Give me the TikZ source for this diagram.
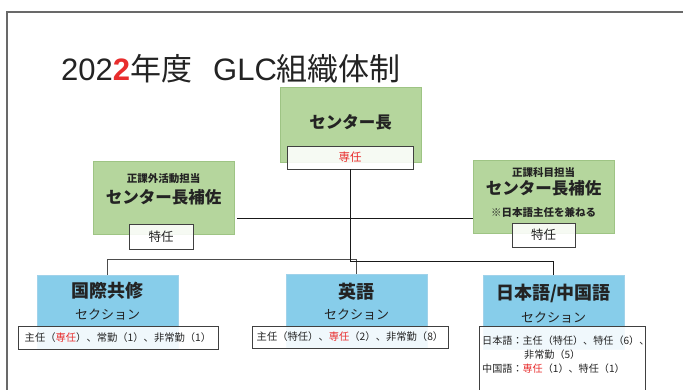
\documentclass[tikz,border=0pt]{standalone}
\usepackage{fontspec}
\setmainfont{Noto Sans CJK JP}
\newfontfamily\lat{Liberation Sans}
\usetikzlibrary{calc}
\definecolor{gfill}{RGB}{181,214,157}
\definecolor{gline}{RGB}{158,196,132}
\definecolor{bfill}{RGB}{135,205,234}
\definecolor{bline}{RGB}{160,210,234}
\definecolor{txt}{RGB}{35,35,35}
\definecolor{redt}{RGB}{232,45,45}
\definecolor{framec}{RGB}{105,105,105}
\begin{document}
\begin{tikzpicture}[x=1pt,y=-1pt,
  gbox/.style={draw=gline, fill=gfill, line width=0.8pt, minimum width=141pt, inner sep=0pt},
  bbox/.style={draw=bline, fill=bfill, line width=0.8pt, minimum width=141pt, minimum height=74pt, inner sep=0pt},
  wbox/.style={draw=black!75, fill=white, fill opacity=0.88, text opacity=1, line width=0.8pt, inner sep=0pt, text=txt},
  head/.style={text=txt, font=\bfseries\fontsize{16.5}{18}\selectfont, inner sep=0pt},
  small/.style={text=txt, font=\bfseries\fontsize{10.5}{12}\selectfont, inner sep=0pt},
  sect/.style={text=txt, font=\fontsize{13}{14}\selectfont, inner sep=0pt},
  note/.style={text=txt, font=\fontsize{10.1}{11}\selectfont, inner sep=0pt},
  conn/.style={draw=black!90, line width=0.9pt},
  conng/.style={draw=black!70, line width=0.9pt}]
\clip (0,0) rectangle (683,389);
\fill[white] (0,0) rectangle (683,389);
% frame
\draw[framec, line width=1.4pt] (7,400) -- (7,12) -- (700,12);
% title
\node[anchor=base west, inner sep=0pt, text=txt, font=\fontsize{31}{34}\selectfont] (title) at (61,80)
  {{\lat 202\textcolor{redt}{\bfseries 2}}年度\hspace{21pt}{\lat GLC}組織体制};
% boxes
\node[gbox, minimum height=75pt] (boss) at (350.5,124.5) {};
\node[head] (bosst) at (350.5,122) {センター長};
\node[wbox, minimum width=126pt, minimum height=23pt, text=redt, font=\fontsize{11.5}{12}\selectfont] (bossw) at (350,157.5) {専任};

\node[gbox, minimum height=73pt] (a1) at (163.5,197.5) {};
\node[small] (a1s) at (163.5,179) {正課外活動担当};
\node[head] (a1t) at (163.5,197) {センター長補佐};
\node[wbox, minimum width=64pt, minimum height=25pt, font=\fontsize{12.5}{13}\selectfont] (a1w) at (161,236.5) {特任};

\node[gbox, minimum height=73pt] (a2) at (543.5,196.5) {};
\node[small] (a2s) at (543.5,172) {正課科目担当};
\node[head] (a2t) at (543.5,188) {センター長補佐};
\node[small] (a2n) at (543.5,212) {※日本語主任を兼ねる};
\node[wbox, minimum width=63pt, minimum height=24pt, font=\fontsize{12.5}{13}\selectfont] (a2w) at (543.5,235) {特任};

% connectors (upper)
\coordinate (hl) at (237,218);
\draw[conn] (hl) -- (a2.west |- hl);
\coordinate (j1) at (356.5,259);
\coordinate (j2) at (553.5,261);

\node[bbox] (s1) at (107.5,312) {};
\node[bbox] (s2) at (356.5,311.5) {};
\node[bbox] (s3) at (553.5,312.5) {};

\draw[conng] (s1.north) -- (s1.north |- j1) -- (j1) -- (s2.north);
\draw[conn] (bossw.south) -- (bossw.south |- j2) -- (j2) -- (s3.north);

\node[head, font=\bfseries\fontsize{18}{20}\selectfont] (s1t) at (107.5,291) {国際共修};
\node[sect] (s1c) at (107.5,315) {セクション};
\node[head, font=\bfseries\fontsize{18}{20}\selectfont] (s2t) at (356.5,292) {英語};
\node[sect] (s2c) at (356.5,315) {セクション};
\node[head, font=\bfseries\fontsize{18}{20}\selectfont] (s3t) at (553.5,293) {日本語/中国語};
\node[sect] (s3c) at (553.5,318) {セクション};

\node[wbox, minimum width=200pt, minimum height=23pt, font=\fontsize{10.3}{11}\selectfont] (s1w) at (118,337.5)
  {主任（\textcolor{redt}{専任}）、常勤（1）、非常勤（1）};
\node[wbox, minimum width=196pt, minimum height=22pt, font=\fontsize{10.3}{11}\selectfont] (s2w) at (350,337)
  {主任（特任）、\textcolor{redt}{専任}（2）、非常勤（8）};
\node[wbox, minimum width=166pt, minimum height=74pt, anchor=north west] (s3w) at (479,326) {};
\node[note, anchor=west] (s3l1) at (482,341) {日本語：主任（特任）、特任（6）、};
\node[note, anchor=west] (s3l2) at (524,355) {非常勤（5）};
\node[note, anchor=west] (s3l3) at (482,369) {中国語：\textcolor{redt}{専任}（1）、特任（1）};
\end{tikzpicture}
\end{document}
